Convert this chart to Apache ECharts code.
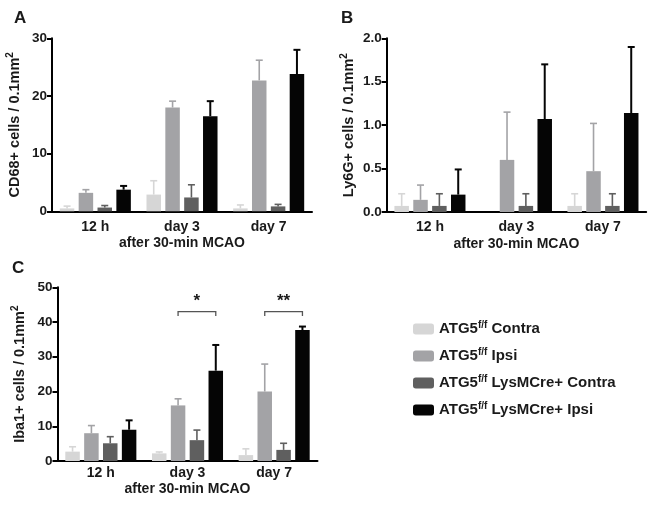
<!DOCTYPE html>
<html>
<head>
<meta charset="utf-8">
<script src="https://cdn.jsdelivr.net/npm/echarts@6/dist/echarts.min.js"></script>
<style>
html,body{margin:0;padding:0;background:#fff;}
#chart{width:656px;height:505px;}
</style>
</head>
<body>
<div id="chart"></div>
<script>
// ---- data ----
var categories = ['12 h', 'day 3', 'day 7'];
var seriesNames = ['ATG5f/f Contra', 'ATG5f/f Ipsi', 'ATG5f/f LysMCre+ Contra', 'ATG5f/f LysMCre+ Ipsi'];
var legendLabels = ['ATG5{sup|f/f} Contra', 'ATG5{sup|f/f} Ipsi', 'ATG5{sup|f/f} LysMCre+ Contra', 'ATG5{sup|f/f} LysMCre+ Ipsi'];

// Panel A: CD68+ cells (one row per group, one value per time point)
var cd68Mean = [
  [0.5, 2.9, 0.5],
  [3.2, 18.0, 22.7],
  [0.65, 2.4, 0.85],
  [3.75, 16.5, 23.8]
];
var cd68Err = [
  [0.4, 2.4, 0.6],
  [0.55, 1.1, 3.5],
  [0.35, 2.2, 0.35],
  [0.65, 2.6, 4.2]
];
// Panel B: Ly6G+ cells
var ly6gMean = [
  [0.07, 0, 0.07],
  [0.14, 0.60, 0.47],
  [0.07, 0.07, 0.07],
  [0.20, 1.07, 1.14]
];
var ly6gErr = [
  [0.14, 0, 0.14],
  [0.17, 0.55, 0.55],
  [0.14, 0.14, 0.14],
  [0.29, 0.63, 0.76]
];
// Panel C: Iba1+ cells
var iba1Mean = [
  [2.7, 2.2, 1.7],
  [8.0, 16.0, 20.0],
  [5.1, 6.0, 3.2],
  [9.0, 26.0, 37.7]
];
var iba1Err = [
  [1.4, 0.4, 1.8],
  [2.2, 1.9, 7.9],
  [1.9, 2.9, 1.9],
  [2.7, 7.4, 1.0]
];
// significance brackets in panel C (Ipsi vs LysMCre+ Ipsi)
var sigLabels = ['', '*', '**'];
var sigLevel = [0, 43, 43];

var yTicksA = [0, 30, 10];   // min, max, interval
var yTicksB = [0, 2, 0.5];
var yTicksC = [0, 50, 10];

// ---- styles ----
var colors = ['#d6d6d6', '#a3a3a6', '#5f5f5f', '#050505'];
var FONT = 'Liberation Sans, Arial, sans-serif';
var BAR_W = 14.5;
var BAR_GAP = 4.35;

var panels = [
  {left: 52, top: 38.3, width: 260, height: 173, title: 'CD68+ cells / 0.1mm{sup|2}', mean: cd68Mean, err: cd68Err, ticks: yTicksA, dec: 0, lblMargin: 9, nameGap: 25},
  {left: 386.7, top: 38.3, width: 259.5, height: 173.7, title: 'Ly6G+ cells / 0.1mm{sup|2}', mean: ly6gMean, err: ly6gErr, ticks: yTicksB, dec: 1, lblMargin: 8, nameGap: 25},
  {left: 57.5, top: 287.3, width: 260, height: 173.7, title: 'Iba1+ cells / 0.1mm{sup|2}', mean: iba1Mean, err: iba1Err, ticks: yTicksC, dec: 0, lblMargin: 5, nameGap: 21}
];

var grid = [], xAxis = [], yAxis = [], series = [];
panels.forEach(function (p, k) {
  grid.push({left: p.left, top: p.top, width: p.width, height: p.height, containLabel: false});
  xAxis.push({
    type: 'category', gridIndex: k, data: categories,
    name: 'after 30-min MCAO', nameLocation: 'middle', nameGap: p.nameGap,
    nameTextStyle: {fontFamily: FONT, fontWeight: 'bold', fontSize: 14, color: '#1a1a1a', verticalAlign: 'top'},
    axisLine: {lineStyle: {color: '#000', width: 2}},
    axisTick: {alignWithLabel: true, length: 4, lineStyle: {width: 2, color: '#000'}},
    axisLabel: {fontFamily: FONT, fontWeight: 'bold', fontSize: 14, color: '#1a1a1a', margin: p.lblMargin}
  });
  yAxis.push({
    type: 'value', gridIndex: k, min: p.ticks[0], max: p.ticks[1], interval: p.ticks[2],
    name: p.title, nameLocation: 'middle', nameGap: 28, nameRotate: 90,
    nameTextStyle: {fontFamily: FONT, fontWeight: 'bold', fontSize: 14.5, color: '#1a1a1a',
      rich: {sup: {fontFamily: FONT, fontWeight: 'bold', fontSize: 10, color: '#1a1a1a', padding: [0, 0, 9, 0]}}},
    axisLine: {show: true, lineStyle: {color: '#000', width: 2}},
    axisTick: {show: true, length: 5, lineStyle: {width: 2, color: '#000'}},
    axisLabel: {fontFamily: FONT, fontWeight: 'bold', fontSize: 13.5, color: '#1a1a1a', margin: 5,
      formatter: function (v) { return v.toFixed(p.dec); }},
    splitLine: {show: false}
  });
  seriesNames.forEach(function (name, i) {
    series.push({
      type: 'bar', name: name, xAxisIndex: k, yAxisIndex: k,
      data: p.mean[i], barWidth: BAR_W, barGap: (BAR_GAP / BAR_W * 100) + '%',
      itemStyle: {color: colors[i]}, z: 2
    });
  });
  // error bars
  seriesNames.forEach(function (name, i) {
    var d = p.mean[i].map(function (m, c) { return [c, m, p.err[i][c]]; });
    series.push({
      type: 'custom', name: 'err' + k + '_' + i, xAxisIndex: k, yAxisIndex: k, clip: false, z: 3,
      data: d,
      renderItem: function (params, api) {
        var c = api.value(0), m = api.value(1), e = api.value(2);
        if (!(e > 0)) return null;
        var base = api.coord([c, m]);
        var top = api.coord([c, m + e]);
        var off = (i - 1.5) * (BAR_W + BAR_GAP);
        var x = base[0] + off;
        var st = {stroke: colors[i], lineWidth: i === 3 ? 2 : 1.6};
        return {type: 'group', children: [
          {type: 'line', shape: {x1: x, y1: base[1], x2: x, y2: top[1]}, style: st},
          {type: 'line', shape: {x1: x - 3.5, y1: top[1], x2: x + 3.5, y2: top[1]}, style: st}
        ]};
      }
    });
  });
});

// significance brackets (panel C)
series.push({
  type: 'custom', name: 'sig', xAxisIndex: 2, yAxisIndex: 2, clip: false, z: 4,
  data: sigLabels.map(function (s, c) { return [c, sigLevel[c], s]; }),
  renderItem: function (params, api) {
    var idx = params.dataIndex;
    var lbl = sigLabels[idx];
    if (!lbl) return null;
    var c = api.value(0), y = api.value(1);
    var pt = api.coord([c, y]);
    var x1 = pt[0] + (1 - 1.5) * (BAR_W + BAR_GAP);
    var x2 = pt[0] + (3 - 1.5) * (BAR_W + BAR_GAP);
    var st = {stroke: '#555', lineWidth: 1.3, fill: null};
    return {type: 'group', children: [
      {type: 'polyline', shape: {points: [[x1, pt[1] + 4.5], [x1, pt[1]], [x2, pt[1]], [x2, pt[1] + 4.5]]}, style: st},
      {type: 'text', x: (x1 + x2) / 2, y: pt[1] - 2, style: {text: lbl, fill: '#1a1a1a', font: 'bold 17px ' + FONT, textAlign: 'center', textVerticalAlign: 'bottom'}}
    ]};
  }
});

var option = {
  animation: false,
  backgroundColor: '#fff',
  grid: grid, xAxis: xAxis, yAxis: yAxis, series: series,
  legend: {
    data: seriesNames, orient: 'vertical', left: 408, top: 315,
    icon: 'roundRect', itemWidth: 21, itemHeight: 11, itemGap: 9,
    selectedMode: false,
    formatter: function (name) { return legendLabels[seriesNames.indexOf(name)]; },
    textStyle: {fontFamily: FONT, fontWeight: 'bold', fontSize: 15, color: '#1a1a1a', lineHeight: 18, padding: [0, 0, 0, 0],
      rich: {sup: {fontFamily: FONT, fontWeight: 'bold', fontSize: 10, color: '#1a1a1a', padding: [0, 0, 8, 0]}}}
  },
  graphic: [
    {type: 'text', left: 14, top: 10, style: {text: 'A', font: 'bold 17px ' + FONT, fill: '#1a1a1a'}},
    {type: 'text', left: 341, top: 10, style: {text: 'B', font: 'bold 17px ' + FONT, fill: '#1a1a1a'}},
    {type: 'text', left: 12, top: 260, style: {text: 'C', font: 'bold 17px ' + FONT, fill: '#1a1a1a'}}
  ]
};

var chart = echarts.init(document.getElementById('chart'), null, {renderer: 'canvas'});
chart.setOption(option);
</script>
</body>
</html>
